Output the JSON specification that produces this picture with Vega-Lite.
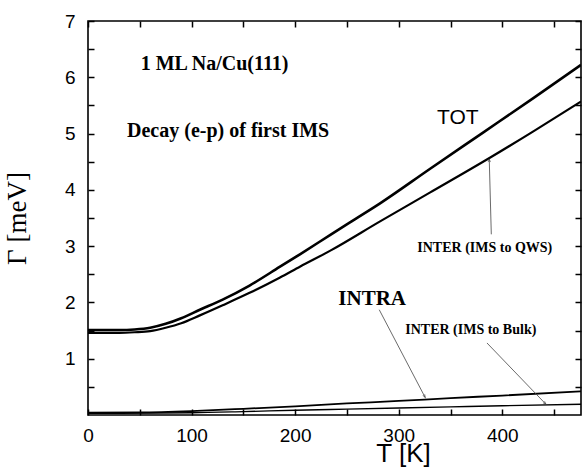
{
  "$schema": "https://vega.github.io/schema/vega-lite/v6.json",
  "width": 493,
  "height": 394,
  "autosize": {"type": "none"},
  "padding": {"left": 88, "top": 21, "right": 2, "bottom": 56},
  "background": "white",
  "config": {
    "view": {"stroke": "black", "strokeWidth": 1.6},
    "axis": {"grid": false, "domain": false, "ticks": true, "tickColor": "black", "tickOpacity": 1, "tickSize": 6, "tickWidth": 1.5, "offset": -6, "zindex": 1, "labelFlush": false, "labelFont": "Liberation Sans", "labelFontSize": 19, "labelColor": "black", "titleColor": "black", "titleFontWeight": "normal"}
  },
  "resolve": {"axis": {"x": "independent", "y": "independent"}},
  "layer": [
    {
      "data": {"values": [
        {"T": 0, "G": 1.51, "s": "TOT"}, {"T": 30, "G": 1.51, "s": "TOT"}, {"T": 45, "G": 1.52, "s": "TOT"}, {"T": 60, "G": 1.55, "s": "TOT"}, {"T": 75, "G": 1.62, "s": "TOT"}, {"T": 90, "G": 1.72, "s": "TOT"}, {"T": 108, "G": 1.87, "s": "TOT"}, {"T": 130, "G": 2.05, "s": "TOT"}, {"T": 156, "G": 2.3, "s": "TOT"}, {"T": 185, "G": 2.63, "s": "TOT"}, {"T": 205, "G": 2.86, "s": "TOT"}, {"T": 234, "G": 3.2, "s": "TOT"}, {"T": 258, "G": 3.48, "s": "TOT"}, {"T": 282, "G": 3.76, "s": "TOT"}, {"T": 330, "G": 4.37, "s": "TOT"}, {"T": 380, "G": 5.0, "s": "TOT"}, {"T": 430, "G": 5.63, "s": "TOT"}, {"T": 476, "G": 6.22, "s": "TOT"},
        {"T": 0, "G": 1.46, "s": "QWS"}, {"T": 30, "G": 1.46, "s": "QWS"}, {"T": 45, "G": 1.47, "s": "QWS"}, {"T": 60, "G": 1.49, "s": "QWS"}, {"T": 75, "G": 1.55, "s": "QWS"}, {"T": 90, "G": 1.63, "s": "QWS"}, {"T": 108, "G": 1.77, "s": "QWS"}, {"T": 130, "G": 1.95, "s": "QWS"}, {"T": 156, "G": 2.17, "s": "QWS"}, {"T": 185, "G": 2.44, "s": "QWS"}, {"T": 205, "G": 2.64, "s": "QWS"}, {"T": 234, "G": 2.92, "s": "QWS"}, {"T": 282, "G": 3.44, "s": "QWS"}, {"T": 330, "G": 3.95, "s": "QWS"}, {"T": 388, "G": 4.57, "s": "QWS"}, {"T": 430, "G": 5.04, "s": "QWS"}, {"T": 476, "G": 5.57, "s": "QWS"},
        {"T": 0, "G": 0.04, "s": "INTRA"}, {"T": 50, "G": 0.045, "s": "INTRA"}, {"T": 100, "G": 0.07, "s": "INTRA"}, {"T": 150, "G": 0.11, "s": "INTRA"}, {"T": 200, "G": 0.155, "s": "INTRA"}, {"T": 250, "G": 0.205, "s": "INTRA"}, {"T": 300, "G": 0.25, "s": "INTRA"}, {"T": 350, "G": 0.3, "s": "INTRA"}, {"T": 400, "G": 0.345, "s": "INTRA"}, {"T": 476, "G": 0.42, "s": "INTRA"},
        {"T": 0, "G": 0.03, "s": "Bulk"}, {"T": 100, "G": 0.04, "s": "Bulk"}, {"T": 150, "G": 0.06, "s": "Bulk"}, {"T": 200, "G": 0.085, "s": "Bulk"}, {"T": 250, "G": 0.105, "s": "Bulk"}, {"T": 300, "G": 0.125, "s": "Bulk"}, {"T": 350, "G": 0.145, "s": "Bulk"}, {"T": 400, "G": 0.165, "s": "Bulk"}, {"T": 476, "G": 0.19, "s": "Bulk"}
      ]},
      "mark": {"type": "line", "color": "black", "interpolate": "monotone", "clip": true},
      "encoding": {
        "x": {"field": "T", "type": "quantitative", "scale": {"domain": [0, 476], "nice": false, "zero": false},
          "axis": {"orient": "bottom", "values": [0, 50, 100, 150, 200, 250, 300, 350, 400, 450], "labelExpr": "datum.value % 100 == 0 ? format(datum.value, 'd') : ''", "labelPadding": 11, "title": "T [K]", "titleFont": "Liberation Sans", "titleFontSize": 26, "titleX": 315, "titleY": 44, "titleAlign": "center", "titleBaseline": "middle"}},
        "y": {"field": "G", "type": "quantitative", "scale": {"domain": [0, 7], "nice": false},
          "axis": {"orient": "left", "values": [0.5, 1, 1.5, 2, 2.5, 3, 3.5, 4, 4.5, 5, 5.5, 6, 6.5, 7], "labelExpr": "datum.value % 1 == 0 ? format(datum.value, 'd') : ''", "labelPadding": 13, "title": "Γ [meV]", "titleFont": "Liberation Serif", "titleFontSize": 27, "titleX": -77, "titleY": 197, "titleAlign": "center", "titleBaseline": "middle", "titleAngle": -90}},
        "detail": {"field": "s"},
        "strokeWidth": {"field": "s", "type": "nominal", "scale": {"domain": ["TOT", "QWS", "INTRA", "Bulk"], "range": [2.6, 1.4, 1.8, 1.5]}, "legend": null}
      }
    },
    {
      "data": {"values": [
        {"a": "QWS", "T0": 389.4, "G0": 3.21, "T1": 387.4, "G1": 4.55},
        {"a": "INTRA", "T0": 281.2, "G0": 1.87, "T1": 325.6, "G1": 0.31},
        {"a": "Bulk", "T0": 385.2, "G0": 1.28, "T1": 442.2, "G1": 0.19}
      ]},
      "mark": {"type": "rule", "color": "#444", "strokeWidth": 0.8},
      "encoding": {
        "x": {"field": "T0", "type": "quantitative", "scale": {"domain": [0, 476], "nice": false, "zero": false},
          "axis": {"orient": "top", "values": [0, 50, 100, 150, 200, 250, 300, 350, 400, 450], "labels": false, "title": null}},
        "y": {"field": "G0", "type": "quantitative", "scale": {"domain": [0, 7], "nice": false},
          "axis": {"orient": "right", "values": [0.5, 1, 1.5, 2, 2.5, 3, 3.5, 4, 4.5, 5, 5.5, 6, 6.5, 7], "labels": false, "title": null}},
        "x2": {"field": "T1"},
        "y2": {"field": "G1"}
      }
    },
    {
      "data": {"values": [{"a": "QWS", "T1": 387.4, "G1": 4.55}]},
      "mark": {"type": "point", "shape": "M-0.35,1L0,0L0.35,1", "filled": false, "color": "#444", "strokeWidth": 0.9, "size": 40, "angle": -1.5},
      "encoding": {"x": {"field": "T1", "type": "quantitative", "axis": null}, "y": {"field": "G1", "type": "quantitative", "axis": null}}
    },
    {
      "data": {"values": [{"a": "INTRA", "T1": 325.6, "G1": 0.31}]},
      "mark": {"type": "point", "shape": "M-0.35,1L0,0L0.35,1", "filled": false, "color": "#444", "strokeWidth": 0.9, "size": 40, "angle": 152.4},
      "encoding": {"x": {"field": "T1", "type": "quantitative", "axis": null}, "y": {"field": "G1", "type": "quantitative", "axis": null}}
    },
    {
      "data": {"values": [{"a": "Bulk", "T1": 442.2, "G1": 0.19}]},
      "mark": {"type": "point", "shape": "M-0.35,1L0,0L0.35,1", "filled": false, "color": "#444", "strokeWidth": 0.9, "size": 40, "angle": 136.3},
      "encoding": {"x": {"field": "T1", "type": "quantitative", "axis": null}, "y": {"field": "G1", "type": "quantitative", "axis": null}}
    },
    {
      "data": {"values": [{"label": "1 ML Na/Cu(111)", "T": 122.2, "G": 6.24}, {"label": "Decay (e-p) of first IMS", "T": 135.3, "G": 5.04}]},
      "mark": {"type": "text", "font": "Liberation Serif", "fontWeight": "bold", "fontSize": 20, "color": "black", "align": "center", "baseline": "middle"},
      "encoding": {"x": {"field": "T", "type": "quantitative", "axis": null}, "y": {"field": "G", "type": "quantitative", "axis": null}, "text": {"field": "label"}}
    },
    {
      "data": {"values": [{"label": "TOT", "T": 357, "G": 5.28}]},
      "mark": {"type": "text", "font": "Liberation Sans", "fontSize": 21, "color": "black", "align": "center", "baseline": "middle"},
      "encoding": {"x": {"field": "T", "type": "quantitative", "axis": null}, "y": {"field": "G", "type": "quantitative", "axis": null}, "text": {"field": "label"}}
    },
    {
      "data": {"values": [{"label": "INTRA", "T": 274.4, "G": 2.06}]},
      "mark": {"type": "text", "font": "Liberation Serif", "fontWeight": "bold", "fontSize": 21, "color": "black", "align": "center", "baseline": "middle"},
      "encoding": {"x": {"field": "T", "type": "quantitative", "axis": null}, "y": {"field": "G", "type": "quantitative", "axis": null}, "text": {"field": "label"}}
    },
    {
      "data": {"values": [{"label": "INTER (IMS to QWS)", "T": 383.1, "G": 2.97}, {"label": "INTER (IMS to Bulk)", "T": 369.6, "G": 1.51}]},
      "mark": {"type": "text", "font": "Liberation Serif", "fontWeight": "bold", "fontSize": 14, "color": "black", "align": "center", "baseline": "middle"},
      "encoding": {"x": {"field": "T", "type": "quantitative", "axis": null}, "y": {"field": "G", "type": "quantitative", "axis": null}, "text": {"field": "label"}}
    }
  ]
}
